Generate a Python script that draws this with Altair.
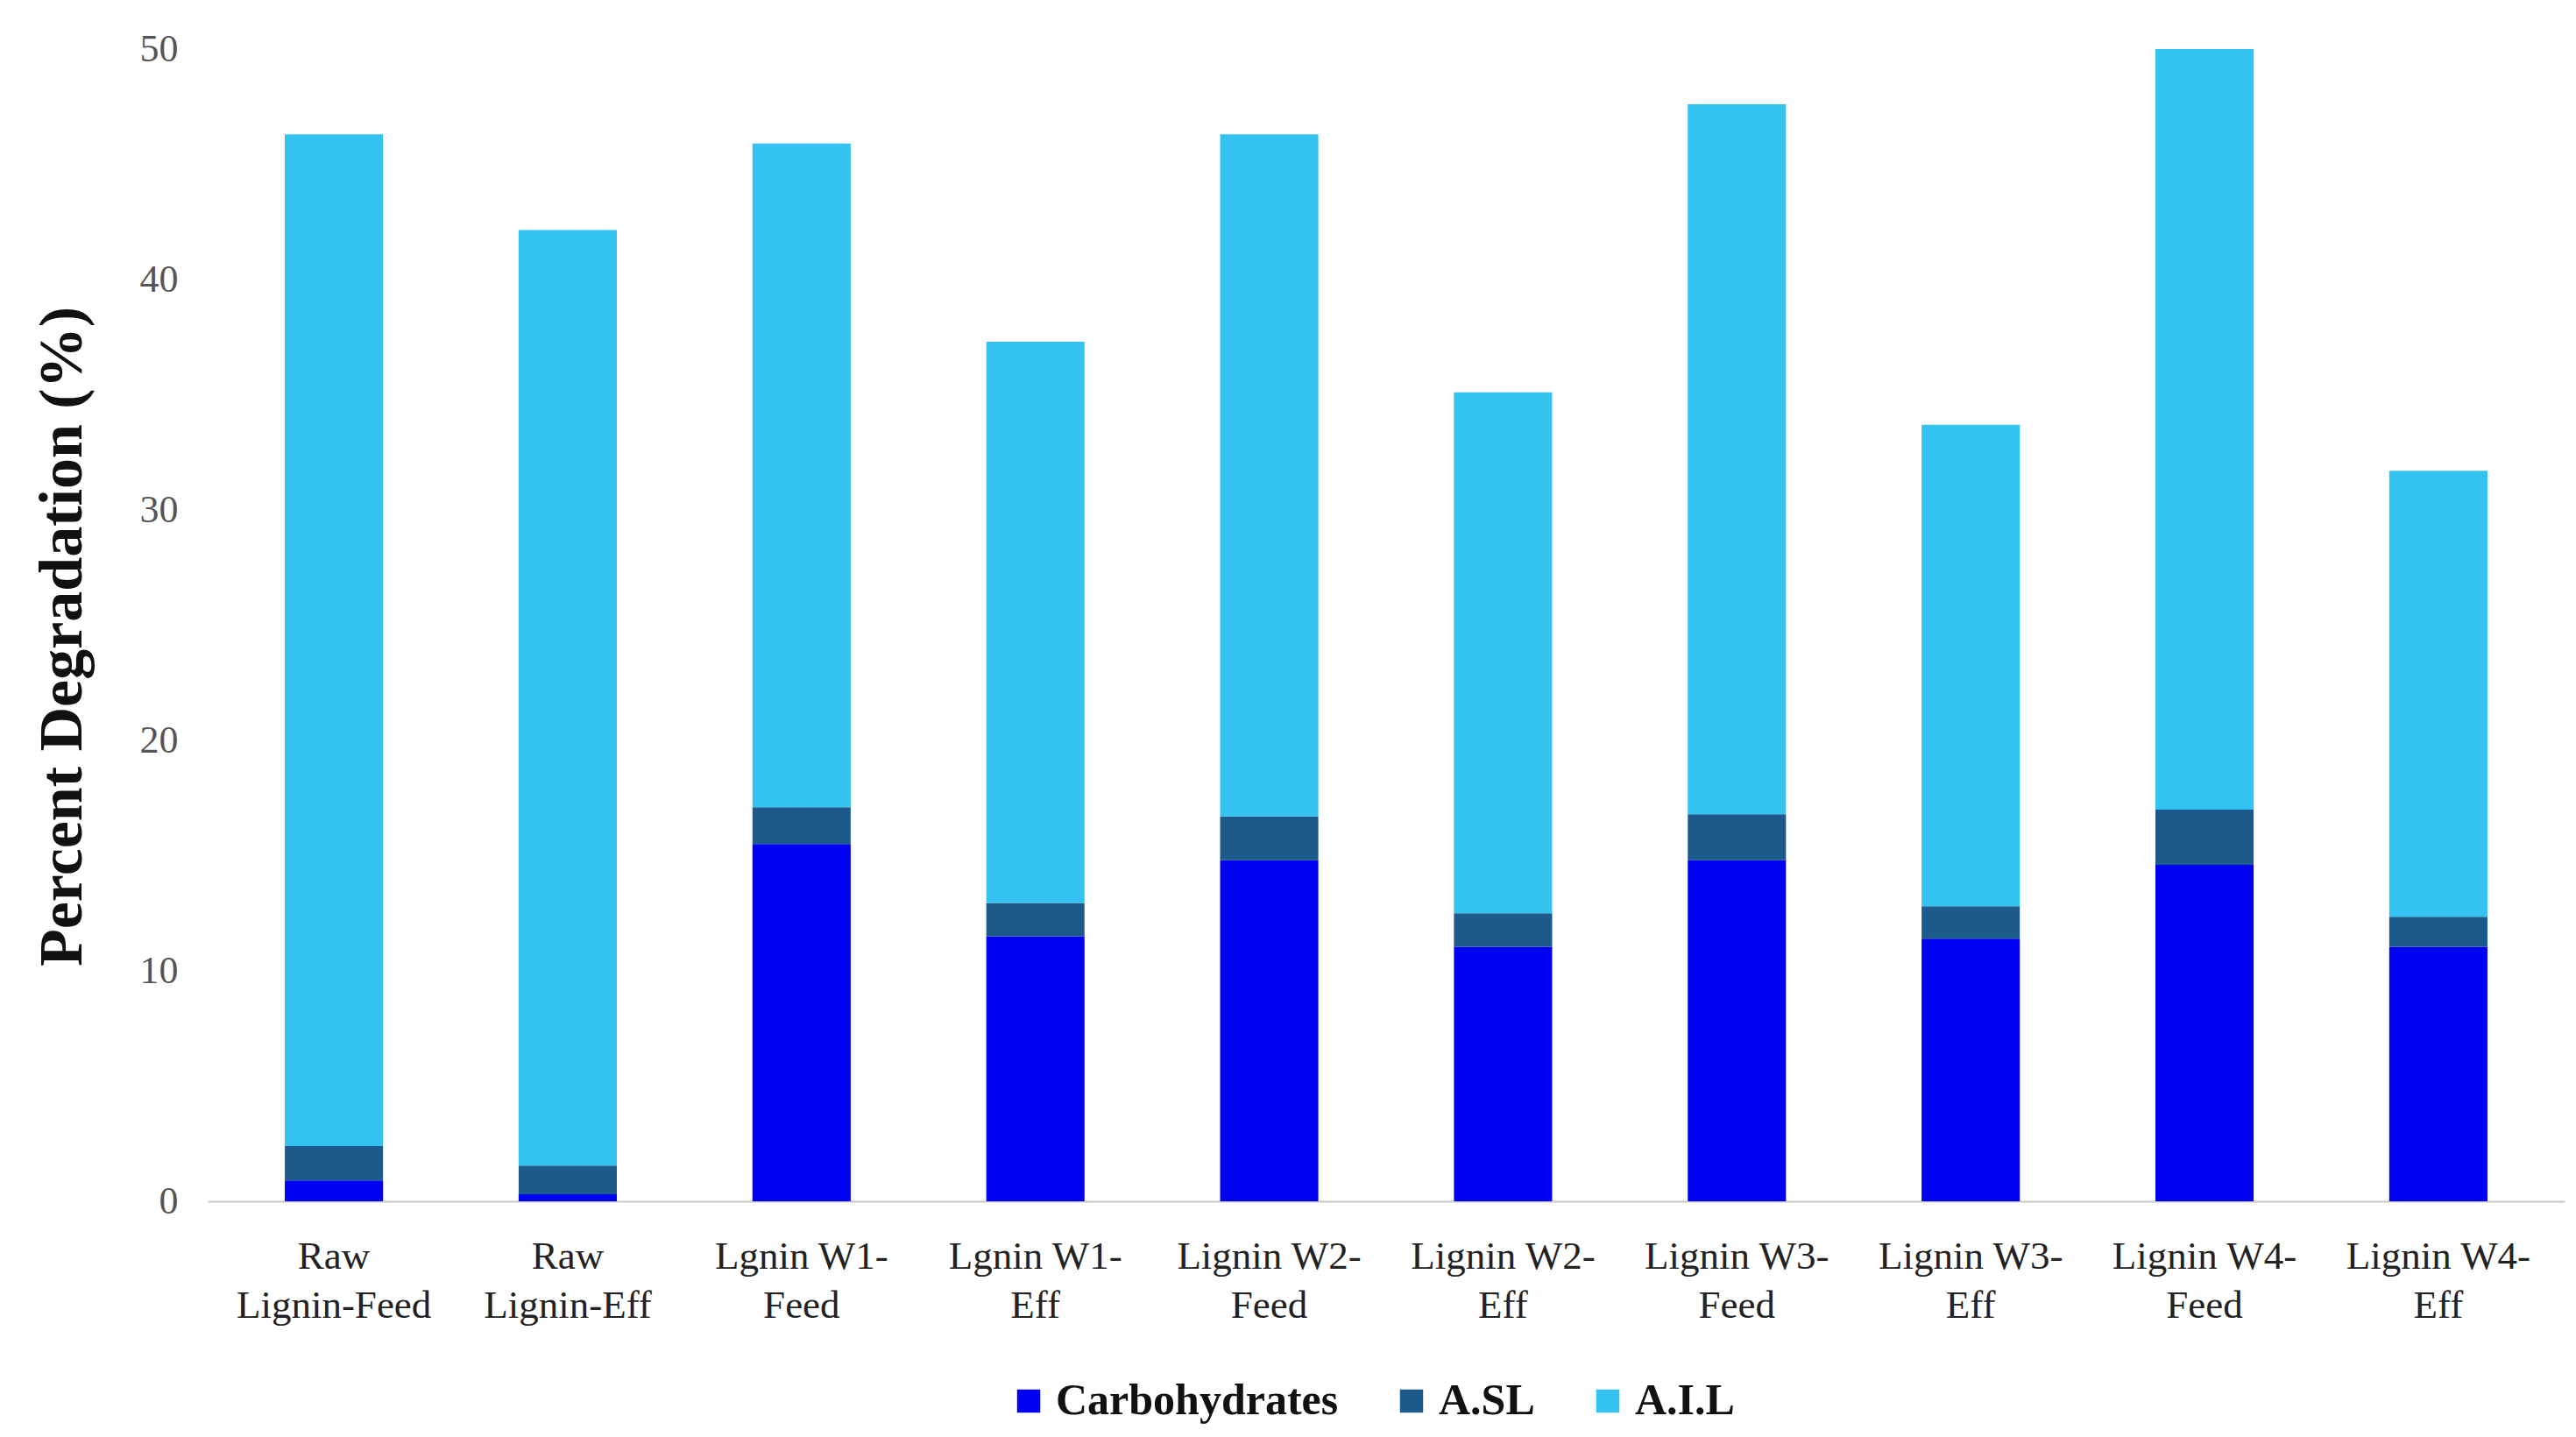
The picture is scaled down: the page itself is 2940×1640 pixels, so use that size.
import altair as alt
import pandas as pd

samples = ["Raw|Lignin-Feed", "Raw|Lignin-Eff", "Lgnin W1-|Feed", "Lgnin W1-|Eff",
           "Lignin W2-|Feed", "Lignin W2-|Eff", "Lignin W3-|Feed", "Lignin W3-|Eff",
           "Lignin W4-|Feed", "Lignin W4-|Eff"]
components = ["Carbohydrates", "A.SL", "A.I.L"]
carbohydrates = [0.9, 0.3, 15.5, 11.5, 14.8, 11.05, 14.8, 11.4, 14.6, 11.05]
asl = [1.5, 1.25, 1.6, 1.45, 1.9, 1.45, 2.0, 1.4, 2.4, 1.3]
ail = [43.9, 40.6, 28.8, 24.35, 29.6, 22.6, 30.8, 20.9, 33.0, 19.35]
colors = ["#0000f2", "#1b5a8a", "#34c3f1"]

rows = []
for i, s in enumerate(samples):
    for j, (comp, vals) in enumerate(zip(components, [carbohydrates, asl, ail])):
        rows.append({"sample": s, "component": comp, "value": vals[i], "ord": j})
df = pd.DataFrame(rows)

chart = alt.Chart(df).mark_bar().encode(
    x=alt.X("sample:N", sort=samples, title=None,
            scale=alt.Scale(paddingInner=0.58, paddingOuter=0.33),
            axis=alt.Axis(labelExpr="split(datum.label, '|')", labelAngle=0,
                          labelFont="Liberation Serif", labelFontSize=45,
                          labelColor="#222222", labelLineHeight=56,
                          labelPadding=40, ticks=False, domainColor="#c8c8c8",
                          domainWidth=2, labelBaseline="top", labelLimit=0)),
    y=alt.Y("value:Q", title="Percent Degradation (%)",
            scale=alt.Scale(domain=[0, 50], nice=False),
            axis=alt.Axis(values=[0, 10, 20, 30, 40, 50], grid=False, domain=False,
                          ticks=False, labelFont="Liberation Serif", labelFontSize=44,
                          labelColor="#555555", labelPadding=34,
                          titleFont="Liberation Serif", titleFontSize=70,
                          titleFontWeight="bold", titleColor="#111111",
                          titleX=-166, titleY=670, titleAngle=270,
                          titleAlign="center", titleBaseline="middle")),
    color=alt.Color("component:N", sort=components,
                    scale=alt.Scale(domain=components, range=colors),
                    legend=alt.Legend(title=None, orient="none", direction="horizontal",
                                      legendX=912, legendY=1518,
                                      labelFont="Liberation Serif", labelFontSize=50,
                                      labelFontWeight="bold", labelColor="#111111",
                                      labelLimit=0,
                                      symbolType="square", symbolSize=700,
                                      symbolStrokeWidth=0, columnPadding=58,
                                      labelOffset=6)),
    order=alt.Order("ord:Q", sort="ascending"),
).properties(
    width=2690, height=1315,
    autosize=alt.AutoSizeParams(type="none"),
    padding={"left": 229, "top": 48, "right": 5, "bottom": 261},
).configure_view(stroke=None)

chart.save("out.html", embed_options={"renderer": "svg", "actions": False})
